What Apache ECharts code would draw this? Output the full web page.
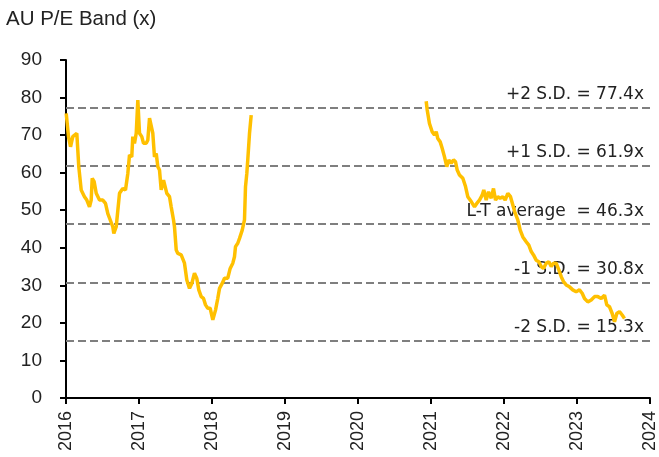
<!DOCTYPE html>
<html>
<head>
<meta charset="utf-8">
<script src="https://cdn.jsdelivr.net/npm/echarts@6/dist/echarts.min.js"></script>
<style>html,body{margin:0;padding:0;background:#fff;}#c{width:659px;height:457px;}</style>
</head>
<body>
<div id="c"></div>
<script>
var titleText = 'AU P/E Band (x)';
var yTicks = [0, 10, 20, 30, 40, 50, 60, 70, 80, 90];
var xTicks = [2016, 2017, 2018, 2019, 2020, 2021, 2022, 2023, 2024];

var dates1 = [2016.003,2016.034,2016.062,2016.093,2016.148,2016.175,2016.208,2016.253,2016.285,2016.322,2016.345,2016.359,2016.386,2016.414,2016.441,2016.459,2016.504,2016.541,2016.573,2016.641,2016.655,2016.688,2016.733,2016.778,2016.815,2016.847,2016.870,2016.901,2016.915,2016.938,2016.962,2016.984,2017.007,2017.038,2017.062,2017.099,2017.121,2017.144,2017.167,2017.189,2017.212,2017.236,2017.258,2017.281,2017.304,2017.336,2017.363,2017.381,2017.418,2017.441,2017.473,2017.486,2017.510,2017.532,2017.578,2017.623,2017.655,2017.692,2017.723,2017.760,2017.792,2017.819,2017.852,2017.884,2017.911,2017.942,2017.975,2018.011,2018.048,2018.079,2018.103,2018.140,2018.171,2018.216,2018.249,2018.285,2018.308,2018.322,2018.353,2018.377,2018.414,2018.445,2018.459,2018.477,2018.490,2018.514,2018.537];
var values1 = [75.8,69.6,66.9,69.6,70.5,61.6,55.4,53.6,52.7,50.9,52.7,58.5,57.6,54.5,55.0,52.7,52.7,51.8,49.1,45.6,43.8,45.6,54.5,55.8,55.4,59.8,64.7,64.2,69.6,67.8,70.5,79.3,70.5,69.6,67.8,67.8,68.7,74.5,74.0,70.5,64.2,65.1,61.6,60.7,55.4,58.0,58.0,54.5,53.6,50.9,47.4,45.6,39.4,38.5,38.1,35.9,31.4,29.2,30.5,33.2,31.8,28.8,27.0,26.5,24.8,23.9,23.9,20.8,23.4,26.5,29.2,30.5,31.9,31.9,34.5,35.9,37.6,40.3,41.2,42.5,44.7,47.4,56.3,59.8,63.4,70.5,75.3];

var dates2 = [2020.934,2020.948,2020.979,2021.016,2021.048,2021.071,2021.093,2021.126,2021.153,2021.185,2021.216,2021.244,2021.277,2021.308,2021.336,2021.359,2021.390,2021.436,2021.473,2021.504,2021.551,2021.596,2021.627,2021.664,2021.701,2021.723,2021.756,2021.788,2021.825,2021.856,2021.884,2021.915,2021.948,2021.984,2022.016,2022.052,2022.089,2022.121,2022.153,2022.189,2022.222,2022.258,2022.304,2022.340,2022.373,2022.404,2022.441,2022.477,2022.510,2022.541,2022.578,2022.614,2022.647,2022.678,2022.715,2022.751,2022.784,2022.815,2022.852,2022.897,2022.942,2022.989,2023.034,2023.071,2023.103,2023.148,2023.195,2023.240,2023.285,2023.332,2023.377,2023.408,2023.445,2023.482,2023.514,2023.545,2023.582,2023.619,2023.651];
var values2 = [79.0,76.7,73.1,70.9,70.0,70.9,69.1,68.2,66.5,64.2,61.6,63.4,62.5,63.4,62.9,60.7,59.4,58.5,56.3,53.6,52.3,50.9,51.8,52.7,54.0,55.4,52.7,54.9,53.2,55.8,52.7,53.6,53.2,53.6,52.7,54.5,53.6,51.4,49.2,47.4,44.7,42.9,41.6,40.7,39.0,38.1,36.7,36.3,35.0,34.5,35.9,36.3,35.0,35.9,35.9,34.1,32.3,31.0,30.1,29.6,28.8,28.3,28.8,27.9,26.5,25.6,26.1,27.0,27.0,26.5,27.4,24.8,24.3,22.5,20.3,22.5,23.0,22.1,21.2];

var bandValues = [77.4, 61.9, 46.3, 30.8, 15.3];
var bandLabels = ['+2 S.D. = 77.4x', '+1 S.D. = 61.9x', 'L-T average  = 46.3x', '-1 S.D. = 30.8x', '-2 S.D. = 15.3x'];

function pairs(xs, ys) { return xs.map(function (x, i) { return [x, ys[i]]; }); }

var chart = echarts.init(document.getElementById('c'), null, { renderer: 'canvas' });
var lineColor = '#FFC000';
chart.setOption({
  animation: false,
  backgroundColor: '#ffffff',
  title: {
    text: titleText, left: 6, top: 9, padding: 0,
    textStyle: { fontFamily: 'Liberation Sans, Arial, sans-serif', fontSize: 20.5, fontWeight: 'normal', color: '#222' }
  },
  grid: { left: 66, right: 9, top: 60, bottom: 59, containLabel: false },
  xAxis: {
    type: 'value', min: xTicks[0], max: xTicks[xTicks.length - 1], interval: 1,
    splitLine: { show: false },
    axisLine: { show: true, lineStyle: { color: '#000', width: 2 } },
    axisTick: { show: true, length: 6, lineStyle: { color: '#000', width: 2 } },
    axisLabel: {
      rotate: 90, margin: 13, color: '#222',
      fontFamily: 'Liberation Sans, Arial, sans-serif', fontSize: 18,
      formatter: function (v) { return String(v); }
    }
  },
  yAxis: {
    type: 'value', min: yTicks[0], max: yTicks[yTicks.length - 1], interval: 10,
    splitLine: { show: false },
    axisLine: { show: true, lineStyle: { color: '#000', width: 2 } },
    axisTick: { show: true, length: 6, lineStyle: { color: '#000', width: 2 } },
    axisLabel: {
      margin: 24, color: '#222',
      fontFamily: 'Liberation Sans, Arial, sans-serif', fontSize: 19
    }
  },
  series: [
    {
      type: 'line', data: pairs(dates1, values1), showSymbol: false, symbol: 'none',
      lineStyle: { color: lineColor, width: 3.5 }, z: 3,
      markLine: {
        silent: true, symbol: ['none', 'none'], z: 2,
        lineStyle: { color: '#7f7f7f', width: 2, type: [8, 4] },
        label: {
          position: 'insideEndTop', distance: [6, 4], color: '#222',
          fontFamily: 'DejaVu Sans, sans-serif', fontSize: 17
        },
        data: bandValues.map(function (v, i) {
          return { yAxis: v, label: { formatter: bandLabels[i] } };
        })
      }
    },
    {
      type: 'line', data: pairs(dates2, values2), showSymbol: false, symbol: 'none',
      lineStyle: { color: lineColor, width: 3.5 }, z: 3
    }
  ]
});
</script>
</body>
</html>
